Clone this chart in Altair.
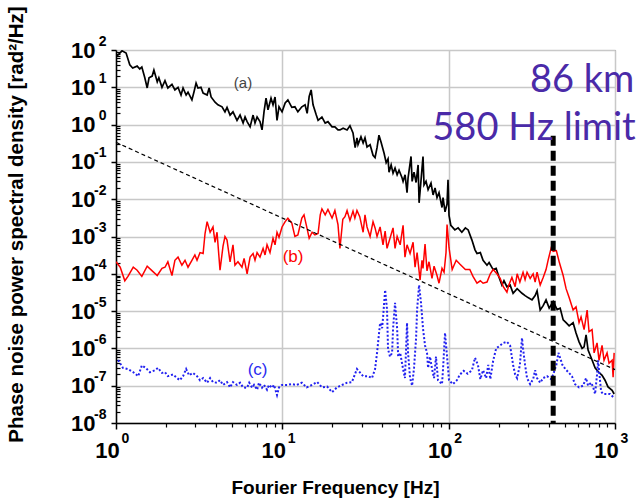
import altair as alt
import pandas as pd

# ---------------- data ----------------
black_freq = [1.0, 1.087, 1.15, 1.21, 1.26, 1.34, 1.39, 1.43, 1.49, 1.54, 1.58, 1.65, 1.69, 1.77, 1.81,
              1.89, 1.97, 2.05, 2.17, 2.26, 2.36, 2.46, 2.53, 2.64, 2.71, 2.86, 2.94, 3.03, 3.11, 3.24,
              3.34, 3.53, 3.63, 3.73, 3.94, 4.10, 4.34, 4.52, 4.65, 4.85, 5.05, 5.34, 5.57, 5.81, 5.97,
              6.14, 6.40, 6.67, 6.85, 7.05, 7.34, 7.55, 7.76, 7.98, 8.20, 8.55, 8.79, 9.04, 9.29, 9.55,
              9.96, 10.4, 10.8, 11.4, 11.9, 12.4, 13.1, 13.7, 14.1, 14.5, 14.9, 15.3, 16.0, 16.4, 17.3,
              18.1, 18.8, 19.9, 20.7, 21.6,
              22.2, 23.2, 24.5, 25.5, 26.6, 27.4, 28.1, 28.5, 29.7, 30.6, 31.4, 32.3, 33.7, 35.1, 36.1,
              37.1, 38.1, 39.2, 40.9, 42.1, 43.2, 43.8, 45.1, 46.3, 47.6, 49.0, 50.3, 52.5, 53.2, 54.7,
              56.2, 57.0, 59.4, 60.3, 61.9, 63.7, 65.5, 66.4, 68.2, 70.1, 71.1, 73.1, 75.2, 78.3, 80.6,
              82.8, 85.1, 87.5, 91.2, 92.5, 95.1, 97.8, 99.1, 100.5, 103,
              109, 114, 120, 126, 131, 138, 144,
              148, 155, 161, 170, 175, 185, 193, 201, 209, 215, 224, 234, 244, 258, 276,
              288, 300, 317, 331, 340, 355, 370, 385, 402, 425, 449, 468, 488, 508, 530,
              560, 583, 608, 634, 652, 670, 689, 728, 759, 791, 836, 871, 908, 961, 988]
black_psd = [65, 95, 83, 40, 33, 37, 31, 35, 18, 9.6, 18, 20, 29, 14, 18,
             10, 15, 9.6, 12, 8.5, 10, 6.2, 9.6, 6.2, 7.4, 4.6, 7.4, 13, 9.6, 10,
             7, 6.2, 9.6, 5.5, 4.0, 3.4, 3.0, 2.2, 2.9, 1.8, 2.2, 1.3, 1.8, 1.1, 1.6,
             1.2, 0.87, 1.8, 1.1, 1.6, 1.2, 0.72, 2.2, 5.1, 2.5, 5.1, 3.4, 5.5, 1.3, 3.0,
             2.2, 3.8, 4.6, 2.9, 3.0, 2.2, 3.0, 3.4, 2.0, 5.7, 8.5, 3.4, 1.8, 1.3, 1.6,
             1.1, 1.2, 0.87, 0.87, 0.72,
             0.72, 0.80, 0.72, 0.93, 0.60, 0.24, 0.44, 0.29, 0.47, 0.32, 0.44, 0.25, 0.29, 0.15, 0.13,
             0.24, 0.52, 0.34, 0.17, 0.095, 0.12, 0.053, 0.083, 0.05, 0.068, 0.045, 0.06, 0.037, 0.03, 0.045,
             0.015, 0.037, 0.14, 0.03, 0.053, 0.028, 0.083, 0.008, 0.032, 0.14, 0.024, 0.03, 0.018, 0.027, 0.013,
             0.02, 0.011, 0.015, 0.006, 0.011, 0.0046, 0.0075, 0.033, 0.0037, 0.002,
             0.0015, 0.0017, 0.0013, 0.0017, 0.0015, 0.0008, 0.00044,
             0.00035, 0.00037, 0.00023, 0.00017, 0.0002, 0.00013, 0.00014, 8e-5, 5e-5, 6.5e-5, 4.5e-5, 5e-5, 3e-5, 4e-5, 3e-5,
             2.6e-5, 2.3e-5, 2e-5, 2.6e-5, 3.5e-5, 1.07e-5, 1.4e-5, 2e-5, 1.2e-5, 1.8e-5, 1.1e-5, 1.2e-5, 5.8e-6, 4.9e-6, 4e-6,
             4.9e-6, 2.6e-6, 1.5e-6, 1.0e-6, 1.1e-6, 2.3e-6, 9e-7, 4.9e-7, 3e-7, 2.4e-7, 1.9e-7, 1.4e-7, 9.3e-8, 7.5e-8, 6e-8]

red_freq = [1.0, 1.06, 1.13, 1.18, 1.27, 1.34, 1.43, 1.54, 1.65, 1.77, 1.89, 1.97, 2.05, 2.17, 2.26,
            2.36, 2.49, 2.60, 2.71, 2.86, 2.98, 3.07, 3.20, 3.34, 3.43, 3.53, 3.68, 3.83, 3.94, 4.05,
            4.22, 4.40, 4.52, 4.65, 4.85, 5.05, 5.19, 5.41, 5.72, 5.89, 6.14, 6.40, 6.67, 6.85, 7.05,
            7.34, 7.66, 7.87, 8.09, 8.43, 8.79, 9.04, 9.29, 9.55, 9.96, 10.4, 10.8, 11.4, 11.9, 12.4,
            13.1, 13.5, 14.1, 14.5, 15.1, 15.7, 16.4, 16.9, 17.3, 18.1, 18.8, 19.9, 20.7, 21.6, 22.2,
            23.1, 23.8, 24.5, 25.5, 26.6, 27.3, 28.1, 29.2, 30.6, 31.4, 32.3, 33.7, 35.1, 36.1, 37.1,
            38.7, 40.3, 41.5, 42.6, 44.4, 46.3, 47.6, 49.0, 51.1, 53.2, 54.6, 56.2, 58.6, 61.1, 62.8,
            64.6, 67.3, 69.1, 70.1, 72.1, 74.1, 76.2, 79.4, 81.7, 85.1, 87.5, 91.2, 93.8, 96.4, 97.8,
            100.5, 105, 111, 117, 126, 134, 140, 148, 155, 161, 170, 178, 185, 195, 204,
            213, 224, 230, 240, 251, 258, 268, 280, 288, 296, 309, 322, 331, 340, 355,
            370, 385, 396, 413, 425, 444, 463, 488, 508, 530, 560, 583, 608, 625, 652,
            680, 698, 728, 749, 780, 802, 836, 859, 896, 921, 961, 974, 988]
red_psd = [2.1e-4, 1.5e-4, 6.5e-5, 8.5e-5, 1.5e-4, 1.25e-4, 8.5e-5, 1.6e-4, 1.2e-4, 9e-5, 1.4e-4, 1.5e-4, 2.1e-4, 9e-5, 2.3e-4,
           2.8e-4, 1.7e-4, 2.3e-4, 1.5e-4, 2.3e-4, 3.2e-4, 2.3e-4, 3.7e-4, 3.5e-4, 1.2e-3, 2.5e-3, 1.3e-3, 1.8e-3, 7e-4, 1.3e-3,
           1.25e-4, 5.5e-4, 1e-3, 8e-4, 2.1e-4, 6e-4, 1.7e-4, 2.1e-4, 1.5e-4, 2.6e-4, 1e-4, 2.8e-4, 3.5e-4, 2.3e-4, 3.7e-4,
           2.8e-4, 4.8e-4, 3.2e-4, 6e-4, 3.7e-4, 9e-4, 6e-4, 1.3e-3, 9.5e-4, 1.8e-3, 2.5e-3, 3.1e-3, 2.3e-3, 1e-3, 1.1e-3,
           3.1e-3, 3.8e-3, 1.6e-3, 9e-4, 1.3e-3, 1.1e-3, 1.2e-3, 3.8e-3, 5.5e-3, 3.8e-3, 5.3e-3, 3.1e-3, 5.0e-3, 2.1e-3, 4.8e-4,
           2.9e-3, 3.4e-3, 5.0e-3, 2.7e-3, 4.8e-3, 3.1e-3, 5.0e-3, 3.4e-3, 1.3e-3, 3.8e-3, 1.8e-3, 1e-3, 2.5e-3, 1.7e-3, 1e-3,
           1.8e-3, 6e-4, 1.4e-3, 4.8e-4, 9e-4, 1.7e-3, 4.8e-4, 1e-3, 6e-4, 2e-3, 2.8e-4, 6e-4, 3.5e-4, 7e-4, 1.5e-4,
           3.7e-4, 6.8e-5, 2.3e-4, 1.4e-4, 6.3e-4, 1.2e-4, 2.1e-4, 7.5e-5, 1.6e-4, 9e-5, 5.6e-5, 1.4e-4, 1.1e-4, 3.7e-4, 2.1e-3,
           5e-4, 1.3e-4, 2.3e-4, 1.8e-4, 1.3e-4, 1.3e-4, 8.5e-5, 5.6e-5, 6.5e-5, 5.6e-5, 6e-5, 1e-4, 1.3e-4, 1e-4, 7.5e-5,
           4.5e-5, 3.2e-5, 5e-5, 8e-5, 4.5e-5, 1e-4, 6e-5, 1.1e-4, 7e-5, 1.1e-4, 7.5e-5, 1e-4, 6e-5, 1.1e-4, 5e-5,
           8e-5, 1.3e-4, 2.3e-4, 4.9e-4, 4e-4, 4.2e-4, 2e-4, 9e-5, 4e-5, 2.3e-5, 1.07e-5, 1.3e-5, 4.9e-6, 7e-6, 3.2e-6,
           1.07e-5, 2.8e-6, 3.2e-6, 7.6e-7, 1.4e-6, 4.8e-7, 1.2e-6, 4.8e-7, 7.6e-7, 4e-7, 4.8e-7, 1.7e-7, 7.6e-7]

blue_freq = [1.03, 1.10, 1.18, 1.27, 1.36, 1.43, 1.51, 1.60, 1.72, 1.79, 1.89, 1.97, 2.05, 2.20, 2.33,
             2.42, 2.53, 2.64, 2.75, 2.90, 3.07, 3.20, 3.34, 3.53, 3.68, 3.83, 4.05, 4.22, 4.40, 4.65,
             4.85, 5.05, 5.34, 5.57, 5.81, 6.14, 6.32, 6.58, 6.76, 7.05, 7.24, 7.55, 7.76, 8.09, 8.32,
             8.67, 8.91, 9.29, 9.55, 9.96, 10.7, 11.4, 12.2, 13.1, 14.0, 15.1, 16.2, 17.3, 18.6, 19.9,
             21.3, 22.9, 24.5, 26.2, 28.1, 29.2, 30.6, 32.8, 34.6, 36.1, 37.1, 38.7, 39.8, 40.3, 41.5,
             42.6, 43.2, 44.4, 45.7, 46.3, 47.6, 49.0, 49.7, 51.1, 53.2, 54.6, 56.2, 57.0, 58.6, 60.3,
             61.9, 63.7, 64.6, 66.4, 68.2, 70.1, 72.1, 74.1, 75.2, 77.3, 79.4, 81.7, 83.9, 86.3, 91.2,
             92.5, 95.1, 97.8, 100.5, 106, 112, 117, 123, 130, 138, 144, 150, 155, 161, 168,
             173, 178, 185, 193, 204, 213, 224, 234, 244, 251, 258, 268, 276, 280, 288,
             296, 309, 322, 331, 340, 355, 370, 390, 413, 425, 444, 457, 483, 503, 524,
             551, 575, 608, 643, 670, 689, 719, 740, 759, 780, 791, 825, 848, 896, 934, 974]
blue_psd = [4.9e-7, 3e-7, 2.8e-7, 2.3e-7, 1.8e-7, 3.5e-7, 3e-7, 2.3e-7, 2.6e-7, 3e-7, 2.2e-7, 2.3e-7, 1.8e-7, 2e-7, 1.6e-7,
            1.4e-7, 1.8e-7, 2.8e-7, 1.9e-7, 2.2e-7, 1.8e-7, 1.4e-7, 1.6e-7, 1.2e-7, 1.6e-7, 1.25e-7, 1.2e-7, 1.4e-7, 1.05e-7, 1.25e-7,
            9e-8, 1.25e-7, 1.05e-7, 1.2e-7, 9e-8, 8.8e-8, 1.2e-7, 8.8e-8, 1.05e-7, 7.8e-8, 1.2e-7, 8.8e-8, 1.05e-7, 7.8e-8, 1.05e-7,
            8.8e-8, 1.05e-7, 5.6e-8, 9e-8, 1.05e-7, 1.05e-7, 1.1e-7, 1.05e-7, 1.2e-7, 9e-8, 1.05e-7, 1.25e-7, 9e-8, 9.5e-8, 6.7e-8,
            9e-8, 1.05e-7, 1.2e-7, 1.25e-7, 2.8e-7, 2.3e-7, 1.8e-7, 1.8e-7, 1.6e-7, 2.8e-7, 7.6e-7, 4.8e-6, 3.5e-6, 6.5e-6, 3.7e-5,
            1.1e-5, 9.5e-7, 6e-7, 7.6e-7, 3.4e-6, 1.66e-5, 3.4e-6, 6e-7, 7.6e-7, 2.8e-7, 1.6e-7, 4.8e-6, 7.6e-7, 1.6e-7, 1.0e-7,
            3.0e-7, 1.9e-6, 1.1e-5, 5e-5, 1.66e-5, 3.4e-6, 1.2e-6, 7.6e-7, 3e-7, 6e-7, 2.8e-7, 1.6e-7, 6e-7, 1.4e-7, 1.1e-7,
            2.8e-7, 2.6e-6, 6e-7, 1.4e-7, 1.1e-7, 1.4e-7, 2e-7, 2.5e-7, 2.1e-7, 2.6e-7, 5.6e-7, 3.6e-7, 1.5e-7, 2.6e-7, 1.6e-7,
            3.6e-7, 1.5e-7, 4.6e-7, 1e-6, 1.2e-6, 1.4e-6, 1.5e-6, 1.2e-6, 3.6e-7, 2e-7, 1.6e-7, 3.6e-7, 1.9e-6, 1.0e-6, 3.6e-7,
            1.6e-7, 1.1e-7, 1.5e-7, 2.6e-7, 1.6e-7, 1.2e-7, 1.6e-7, 1.8e-7, 1.5e-7, 2e-7, 3.6e-7, 7.6e-7, 3.6e-7, 2.8e-7, 2.3e-7,
            1.8e-7, 1.1e-7, 9e-8, 1.0e-7, 1.6e-7, 1.0e-7, 1.2e-7, 9e-8, 6e-8, 2e-7, 4.8e-7, 7e-8, 6e-8, 6e-8, 6e-8, 5e-8]

ref_freq = [1, 1000]
ref_psd = [0.335, 2.7e-7]

limit_freq = [425]
limit_top = [0.5]
limit_bottom = [1e-8]

label_text = ["(a)", "(b)", "(c)"]
label_freq = [5.8, 11.6, 7.1]
label_psd = [13, 2.8e-4, 2.6e-7]
label_color = ["#444444", "#ff0000", "#2a2af0"]
label_size = [15, 17, 17]

note_text = ["86 km", "580 Hz limit"]
note_freq = [634, 326]
note_psd = [15.2, 0.785]

x_decades = [1, 10, 100, 1000]
x_minor = [2, 3, 4, 5, 6, 7, 8, 9, 20, 30, 40, 50, 60, 70, 80, 90,
           200, 300, 400, 500, 600, 700, 800, 900]
y_decades = [1e-8, 1e-7, 1e-6, 1e-5, 1e-4, 1e-3, 1e-2, 1e-1, 1e0, 1e1, 1e2]
y_minor = [float(f"{k}e{e}") for e in range(-8, 2) for k in range(2, 10)]

# ---------------- frames ----------------
black_df = pd.DataFrame({"f": black_freq, "v": black_psd})
red_df = pd.DataFrame({"f": red_freq, "v": red_psd})
blue_df = pd.DataFrame({"f": blue_freq, "v": blue_psd})
ref_df = pd.DataFrame({"f": ref_freq, "v": ref_psd})
limit_df = pd.DataFrame({"f": limit_freq, "v": limit_top, "v2": limit_bottom})
label_df = pd.DataFrame({"f": label_freq, "v": label_psd, "t": label_text,
                         "c": label_color, "s": label_size})
note_df = pd.DataFrame({"f": note_freq, "v": note_psd, "t": note_text})

FONT = "Liberation Sans"
xscale = alt.Scale(type="log", domain=[1, 1000], nice=False)
yscale = alt.Scale(type="log", domain=[1e-8, 100], nice=False)

EXP = "(round(log(datum.value)/LN10) < 0 ? '-' : '') + abs(round(log(datum.value)/LN10))"

x_main = alt.Axis(orient="bottom", values=x_decades, labelExpr="'10'", labelFont=FONT,
                  labelFontSize=22, labelFontWeight="bold", labelColor="black",
                  labelAlign="center", labelBaseline="middle", labelPadding=21, labelOffset=-9,
                  labelFlush=False, labelOverlap=False,
                  tickSize=6, tickColor="black", tickWidth=1.5,
                  domainColor="black", domainWidth=1.5,
                  grid=True, gridColor="#c8c8c8", gridWidth=1.5,
                  title="Fourier Frequency [Hz]", titleFont=FONT, titleFontSize=19,
                  titleFontWeight="bold", titleColor="black", titleX=219, titleY=70,
                  titleBaseline="alphabetic", titleAlign="center")
x_exp = alt.Axis(orient="bottom", values=x_decades, labelExpr=EXP, labelFont=FONT,
                 labelFontSize=14, labelFontWeight="bold", labelColor="black",
                 labelAlign="left", labelBaseline="middle", labelPadding=15, labelOffset=5,
                 labelFlush=False, labelOverlap=False,
                 ticks=False, tickSize=0, domain=False, grid=False, title=None)
x_min = alt.Axis(orient="bottom", values=x_minor, labels=False, tickSize=4,
                 tickColor="black", tickWidth=1.2, domain=False, grid=False, title=None)

y_main = alt.Axis(orient="left", values=y_decades,
                  labelExpr="datum.value < 0.5 ? '10\u00a0' : '10'", labelFont=FONT,
                  labelFontSize=22, labelFontWeight="bold", labelColor="black",
                  labelAlign="right", labelBaseline="middle", labelPadding=16,
                  labelFlush=False, labelOverlap=False,
                  tickSize=5, tickColor="black", tickWidth=1.5,
                  domainColor="black", domainWidth=1.5,
                  grid=True, gridColor="#c8c8c8", gridWidth=1.5,
                  title="Phase noise power spectral density [rad\u00b2/Hz]", titleFont=FONT,
                  titleFontSize=20.5, titleFontWeight="bold", titleColor="black",
                  titleAngle=270, titleX=-90, titleY=174, titleBaseline="bottom",
                  titleAlign="center")
y_exp = alt.Axis(orient="left", values=y_decades, labelExpr=EXP, labelFont=FONT,
                 labelFontSize=14, labelFontWeight="bold", labelColor="black",
                 labelAlign="right", labelBaseline="middle", labelPadding=10, labelOffset=-9,
                 labelFlush=False, labelOverlap=False,
                 ticks=False, tickSize=0, domain=False, grid=False, title=None)
y_min = alt.Axis(orient="left", values=y_minor, labels=False, tickSize=4, offset=-4,
                 tickColor="black", tickWidth=1.2, domain=False, grid=False, title=None)


def X(axis, field="f"):
    return alt.X(f"{field}:Q", scale=xscale, axis=axis)


def Y(axis, field="v"):
    return alt.Y(f"{field}:Q", scale=yscale, axis=axis)


black = alt.Chart(black_df).mark_line(color="black", strokeWidth=1.7, clip=True).encode(
    x=X(x_main), y=Y(y_main), order="f:Q")
red = alt.Chart(red_df).mark_line(color="#ff0000", strokeWidth=1.5, clip=True).encode(
    x=X(x_exp), y=Y(y_exp), order="f:Q")
blue = alt.Chart(blue_df).mark_line(color="#2020f0", strokeWidth=2, strokeDash=[2, 2],
                                    clip=True).encode(
    x=X(x_min), y=Y(y_min), order="f:Q")
ref = alt.Chart(ref_df).mark_line(color="black", strokeWidth=1.2, strokeDash=[4, 3]).encode(
    x=X(None), y=Y(None))
limit = alt.Chart(limit_df).mark_rule(color="black", strokeWidth=5, strokeDash=[10, 5]).encode(
    x=X(None), y=Y(None), y2="v2:Q")
labels = alt.Chart(label_df).mark_text(font=FONT, align="center", baseline="middle").encode(
    x=X(None), y=Y(None), text="t:N",
    color=alt.Color("c:N", scale=None), size=alt.Size("s:Q", scale=None))
notes = alt.Chart(note_df).mark_text(font="Lato", fontSize=38, color="#4a2aa8",
                                     align="center", baseline="middle").encode(
    x=X(None), y=Y(None), text="t:N")

chart = alt.layer(black, red, blue, ref, limit, labels, notes).resolve_axis(
    x="independent", y="independent"
).properties(
    width=499, height=373,
    autosize=alt.AutoSizeParams(type="none"),
    padding={"left": 116, "top": 50, "right": 25, "bottom": 78},
    background="white",
).configure_view(stroke="#707070", strokeWidth=1)

chart.save("out.html", embed_options={"renderer": "svg", "actions": False})
